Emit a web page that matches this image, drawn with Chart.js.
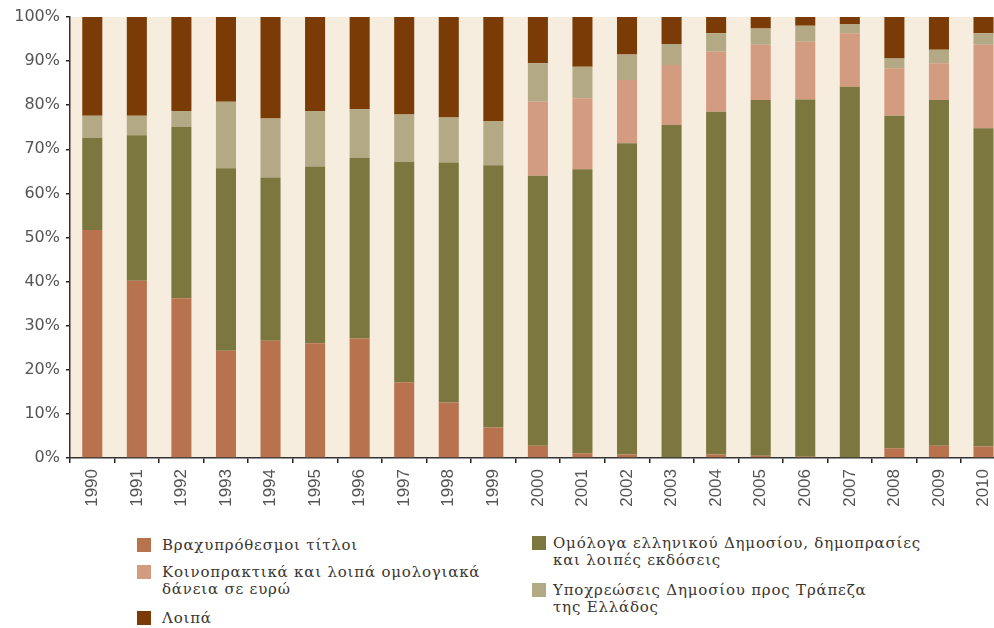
<!DOCTYPE html>
<html>
<head>
<meta charset="utf-8">
<script src="https://cdn.jsdelivr.net/npm/chart.js@4.4.1/dist/chart.umd.min.js"></script>
<style>
  html, body { margin: 0; padding: 0; background: #fff; overflow: hidden; }
  #wrap { position: relative; width: 994px; height: 628px; overflow: hidden; }
  #box { position: absolute; left: 0; top: 0; width: 1010px; height: 520px; }
  .leg { position: absolute; font-family: "DejaVu Serif", serif; font-size: 15px;
         letter-spacing: 0.8px; line-height: 16.5px; color: #3a3530; white-space: pre-line; }
  .sw { position: absolute; width: 14px; height: 14px; }
</style>
</head>
<body>
<div id="wrap">
  <div id="box"><canvas id="chart"></canvas></div>
  <div id="legend"></div>
</div>
<script>
// Έτη
const years = ["1990","1991","1992","1993","1994","1995","1996","1997","1998","1999",
  "2000","2001","2002","2003","2004","2005","2006","2007","2008","2009","2010"];

// Βραχυπρόθεσμοι τίτλοι
const shortTerm = [51.7, 40.2, 36.2, 24.3, 26.6, 26.0, 27.1, 17.2, 12.6, 6.9,
  2.8, 1.1, 0.8, 0, 0.8, 0.5, 0.3, 0, 2.2, 2.8, 2.6];
// Ομόλογα ελληνικού Δημοσίου
const bonds = [20.9, 33.0, 38.9, 41.4, 37.0, 40.1, 40.9, 50.0, 54.4, 59.5,
  61.2, 64.4, 70.6, 75.5, 77.7, 80.7, 81.0, 84.2, 75.4, 78.4, 72.2];
// Κοινοπρακτικά δάνεια σε ευρώ
const syndicated = [0, 0, 0, 0, 0, 0, 0, 0, 0, 0,
  16.8, 16.1, 14.3, 13.6, 13.6, 12.5, 13.1, 12.1, 10.8, 8.3, 18.9];
// Υποχρεώσεις Δημοσίου προς ΤτΕ
const bankOfGreece = [5.0, 4.4, 3.6, 15.1, 13.4, 12.6, 11.1, 10.7, 10.2, 10.0,
  8.7, 7.1, 5.8, 4.8, 4.2, 3.7, 3.6, 2.1, 2.2, 3.1, 2.6];
// Λοιπά
const other = [22.4, 22.4, 21.3, 19.2, 23.0, 21.3, 20.9, 22.1, 22.8, 23.6,
  10.5, 11.3, 8.5, 6.1, 3.7, 2.6, 2.0, 1.6, 9.4, 7.4, 3.7];

const yTicks = [0, 10, 20, 30, 40, 50, 60, 70, 80, 90, 100];

const seriesLabels = [
  "Βραχυπρόθεσμοι τίτλοι",
  "Ομόλογα ελληνικού Δημοσίου, δημοπρασίες\nκαι λοιπές εκδόσεις",
  "Κοινοπρακτικά και λοιπά ομολογιακά\nδάνεια σε ευρώ",
  "Υποχρεώσεις Δημοσίου προς Τράπεζα\nτης Ελλάδος",
  "Λοιπά"
];
const seriesColors = ["#B8734E", "#7B773F", "#D39B7F", "#B3AA85", "#7B3B06"];
const seriesData = [shortTerm, bonds, syndicated, bankOfGreece, other];

// μπεζ φόντο στην περιοχή του γραφήματος
const plotBg = {
  id: "plotBg",
  beforeDraw(chart) {
    const a = chart.chartArea;
    const c = chart.ctx;
    c.save();
    c.fillStyle = "#F6EDDF";
    c.fillRect(a.left, a.top, a.right - a.left, a.bottom - a.top);
    c.restore();
  }
};

const ctx = document.getElementById("chart").getContext("2d");
const chart = new Chart(ctx, {
  type: "bar",
  data: {
    labels: years,
    datasets: seriesData.map((d, i) => ({
      label: seriesLabels[i].replace("\n", " "),
      data: d,
      backgroundColor: seriesColors[i],
      borderWidth: 0,
      barPercentage: 0.45,
      categoryPercentage: 1,
    })),
  },
  options: {
    responsive: true,
    maintainAspectRatio: false,
    animation: false,
    layout: { padding: { top: 17, right: 4, left: 0, bottom: 0 } },
    plugins: {
      legend: { display: false },
      tooltip: { enabled: false },
    },
    scales: {
      x: {
        stacked: true,
        offset: true,
        grid: { display: true, drawOnChartArea: false, offset: true, tickLength: 5, color: "#222", lineWidth: 1.5 },
        border: { display: true, color: "#333", width: 1.5 },
        ticks: {
          minRotation: 90, maxRotation: 90, autoSkip: false, padding: 6,
          color: "#555", font: { family: "'Liberation Sans Narrow', 'Liberation Sans'", size: 17 },
        },
        afterFit(scale) { scale.height = 62; },
      },
      y: {
        stacked: true,
        min: 0, max: 100,
        afterBuildTicks(scale) { scale.ticks = yTicks.map(v => ({ value: v })); },
        grid: { display: true, drawOnChartArea: false, tickLength: 4, color: "#222", lineWidth: 1.5 },
        border: { display: true, color: "#333", width: 1.5 },
        ticks: {
          padding: 6, color: "#555",
          font: { family: "DejaVu Sans", size: 16 },
          callback: v => v + "%",
        },
        afterFit(scale) { scale.width = 70; },
      },
    },
  },
  plugins: [plotBg],
});

// υπόμνημα σε δύο στήλες
const legendPos = [
  { sx: 137, tx: 162, top: 537 },
  { sx: 532, tx: 553, top: 535 },
  { sx: 137, tx: 162, top: 564 },
  { sx: 532, tx: 553, top: 582 },
  { sx: 137, tx: 162, top: 610 },
];
const legendEl = document.getElementById("legend");
seriesLabels.forEach((lbl, i) => {
  const p = legendPos[i];
  const sw = document.createElement("div");
  sw.className = "sw";
  sw.style.left = p.sx + "px";
  sw.style.top = (p.top + 1) + "px";
  sw.style.background = seriesColors[i];
  legendEl.appendChild(sw);
  const t = document.createElement("div");
  t.className = "leg";
  t.style.left = p.tx + "px";
  t.style.top = p.top + "px";
  t.textContent = lbl;
  legendEl.appendChild(t);
});
</script>
</body>
</html>
